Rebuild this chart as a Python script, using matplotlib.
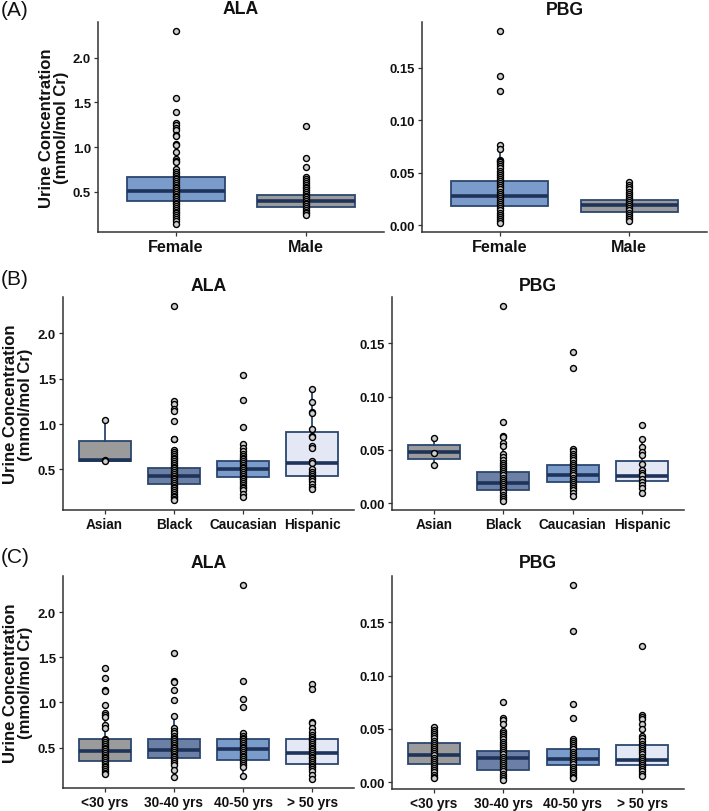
import matplotlib
matplotlib.use('Agg')
import matplotlib.pyplot as plt

plt.rcParams['font.family'] = ['Liberation Sans', 'DejaVu Sans']

# ---------------- categories ----------------
sex_cats = ['Female', 'Male']
race_cats = ['Asian', 'Black', 'Caucasian', 'Hispanic']
age_cats = ['<30 yrs', '30-40 yrs', '40-50 yrs', '> 50 yrs']

ala_ticks = [0.5, 1.0, 1.5, 2.0]
ala_ticklabels = ['0.5', '1.0', '1.5', '2.0']
pbg_ticks = [0.00, 0.05, 0.10, 0.15]
pbg_ticklabels = ['0.00', '0.05', '0.10', '0.15']

# ---------------- box statistics: (q1, median, q3, whisker low, whisker high) ----------------
ala_sex_stats = [(0.403, 0.515, 0.664, 0.14, 1.04), (0.328, 0.395, 0.470, 0.24, 0.67)]
pbg_sex_stats = [(0.0184, 0.028, 0.0423, 0.002, 0.076), (0.0124, 0.0188, 0.0238, 0.004, 0.041)]
ala_race_stats = [(0.588, 0.606, 0.818, 0.588, 1.04), (0.343, 0.427, 0.515, 0.16, 0.71),
                  (0.420, 0.504, 0.595, 0.20, 0.785), (0.427, 0.575, 0.910, 0.28, 1.39)]
pbg_race_stats = [(0.0411, 0.0476, 0.0542, 0.036, 0.061), (0.0121, 0.019, 0.0293, 0.002, 0.054),
                  (0.0199, 0.0268, 0.0355, 0.0065, 0.051), (0.0205, 0.0258, 0.0392, 0.0093, 0.0598)]
ala_age_stats = [(0.346, 0.463, 0.591, 0.207, 0.884), (0.383, 0.474, 0.591, 0.17, 0.848),
                 (0.365, 0.489, 0.591, 0.18, 0.657), (0.321, 0.438, 0.591, 0.152, 0.785)]
pbg_age_stats = [(0.0173, 0.0257, 0.0364, 0.0038, 0.052), (0.011, 0.0226, 0.0289, 0.002, 0.0543),
                 (0.016, 0.0213, 0.0307, 0.0038, 0.040), (0.0157, 0.021, 0.0348, 0.0056, 0.0628)]

# ---------------- individual observations ----------------
ala_female = [2.30, 1.55, 1.39, 1.27, 1.25, 1.22, 1.19, 1.14, 1.12, 1.04, 1.02, 0.95, 0.87, 0.85,
              0.83, 0.76, 0.72, 0.70, 0.68, 0.66, 0.64, 0.62, 0.60, 0.58, 0.56, 0.54, 0.52, 0.50,
              0.48, 0.46, 0.44, 0.42, 0.40, 0.38, 0.36, 0.34, 0.32, 0.30, 0.28, 0.26, 0.24, 0.22,
              0.20, 0.17, 0.14]
ala_male = [1.24, 0.88, 0.78, 0.67, 0.65, 0.62, 0.60, 0.58, 0.56, 0.54, 0.52, 0.50, 0.48, 0.46,
            0.44, 0.42, 0.40, 0.38, 0.36, 0.34, 0.32, 0.30, 0.28, 0.26, 0.24]
pbg_female = [0.185, 0.142, 0.128, 0.076, 0.073, 0.062, 0.061, 0.060, 0.058, 0.056, 0.054, 0.052,
              0.050, 0.048, 0.046, 0.044, 0.042, 0.040, 0.038, 0.036, 0.034, 0.032, 0.030, 0.028,
              0.026, 0.024, 0.022, 0.020, 0.018, 0.016, 0.014, 0.012, 0.010, 0.008, 0.006, 0.004,
              0.002]
pbg_male = [0.041, 0.038, 0.036, 0.034, 0.032, 0.030, 0.028, 0.026, 0.024, 0.022, 0.020, 0.018,
            0.016, 0.014, 0.012, 0.010, 0.008, 0.006, 0.004]

ala_asian = [1.04, 0.60, 0.59]
ala_black = [2.30, 1.25, 1.22, 1.16, 1.14, 1.03, 0.84, 0.83, 0.71, 0.69, 0.67, 0.65, 0.63, 0.61,
             0.59, 0.57, 0.55, 0.53, 0.51, 0.49, 0.47, 0.45, 0.43, 0.41, 0.39, 0.37, 0.35, 0.33,
             0.31, 0.29, 0.27, 0.25, 0.23, 0.21, 0.19, 0.17, 0.16]
ala_caucasian = [1.54, 1.27, 0.97, 0.785, 0.74, 0.70, 0.67, 0.65, 0.63, 0.61, 0.59, 0.57, 0.55,
                 0.53, 0.51, 0.49, 0.47, 0.45, 0.43, 0.41, 0.39, 0.37, 0.35, 0.33, 0.31, 0.29,
                 0.27, 0.23, 0.20]
ala_hispanic = [1.39, 1.24, 1.13, 1.12, 0.95, 0.87, 0.86, 0.76, 0.74, 0.59, 0.57, 0.50, 0.47,
                0.45, 0.43, 0.41, 0.39, 0.37, 0.34, 0.31, 0.28]
pbg_asian = [0.061, 0.0473, 0.036]
pbg_black = [0.185, 0.076, 0.063, 0.062, 0.056, 0.054, 0.046, 0.043, 0.040, 0.038, 0.036, 0.034,
             0.032, 0.030, 0.028, 0.026, 0.024, 0.022, 0.020, 0.018, 0.016, 0.014, 0.012, 0.010,
             0.008, 0.006, 0.004, 0.002]
pbg_caucasian = [0.1416, 0.1273, 0.051, 0.0486, 0.046, 0.044, 0.042, 0.040, 0.038, 0.036, 0.034,
                 0.032, 0.030, 0.028, 0.026, 0.024, 0.022, 0.020, 0.018, 0.016, 0.014, 0.012,
                 0.0095, 0.0065]
pbg_hispanic = [0.0735, 0.0598, 0.0526, 0.048, 0.0454, 0.037, 0.031, 0.0286, 0.026, 0.023, 0.020,
                0.0168, 0.0143, 0.0093]

ala_u30 = [1.385, 1.268, 1.133, 1.122, 0.968, 0.884, 0.859, 0.84, 0.75, 0.72, 0.60, 0.58, 0.56,
           0.54, 0.52, 0.50, 0.48, 0.46, 0.44, 0.42, 0.40, 0.38, 0.36, 0.34, 0.32, 0.30, 0.28,
           0.26, 0.24, 0.22, 0.207]
ala_30_40 = [1.543, 1.235, 1.224, 1.133, 1.023, 0.848, 0.712, 0.683, 0.657, 0.63, 0.61, 0.59,
             0.57, 0.55, 0.53, 0.51, 0.49, 0.47, 0.45, 0.43, 0.41, 0.39, 0.37, 0.35, 0.33, 0.31,
             0.255, 0.17]
ala_40_50 = [2.297, 1.235, 1.04, 0.95, 0.657, 0.63, 0.61, 0.59, 0.57, 0.55, 0.53, 0.51, 0.49,
             0.47, 0.45, 0.43, 0.41, 0.39, 0.37, 0.35, 0.33, 0.31, 0.28, 0.18]
ala_o50 = [1.206, 1.144, 0.785, 0.767, 0.712, 0.676, 0.64, 0.62, 0.60, 0.58, 0.56, 0.54, 0.52,
           0.50, 0.48, 0.46, 0.44, 0.42, 0.40, 0.38, 0.36, 0.34, 0.32, 0.30, 0.28, 0.26, 0.24,
           0.20, 0.152]
pbg_u30 = [0.052, 0.049, 0.047, 0.045, 0.043, 0.041, 0.039, 0.037, 0.035, 0.033, 0.031, 0.029,
           0.027, 0.025, 0.023, 0.021, 0.019, 0.017, 0.015, 0.013, 0.011, 0.009, 0.007, 0.005,
           0.0038]
pbg_30_40 = [0.0756, 0.060, 0.0584, 0.0543, 0.048, 0.046, 0.044, 0.042, 0.040, 0.038, 0.036,
             0.034, 0.032, 0.030, 0.028, 0.026, 0.024, 0.022, 0.020, 0.018, 0.016, 0.014, 0.012,
             0.010, 0.008, 0.006, 0.004, 0.002]
pbg_40_50 = [0.1854, 0.1418, 0.0731, 0.0606, 0.040, 0.0386, 0.0366, 0.0346, 0.0326, 0.0306,
             0.0286, 0.0266, 0.0246, 0.0226, 0.0206, 0.0186, 0.0166, 0.0146, 0.0126, 0.0106,
             0.0086, 0.0066, 0.0048, 0.0038]
pbg_o50 = [0.1274, 0.0628, 0.0615, 0.0596, 0.0543, 0.0496, 0.043, 0.041, 0.039, 0.036, 0.034,
           0.032, 0.030, 0.028, 0.026, 0.024, 0.022, 0.020, 0.018, 0.016, 0.014, 0.012, 0.010,
           0.008, 0.0056]

# ---------------- style ----------------
GRAY = '#9b9b9b'
SLATE = '#6b80a4'
BLUE = '#7b9cca'
LIGHT = '#e3e8f4'
EDGE = '#2b4670'
MED = '#1d3359'
AXC = '#333333'

W, H = 709, 812
fig = plt.figure(figsize=(W / 100, H / 100), dpi=100)


def rect(l, r, t, b):
    return [l / W, 1 - b / H, (r - l) / W, (b - t) / H]


def panel(box, cats, stats, points, colors, ylim, ticks, ticklabels, title, xfs, tpad):
    ax = fig.add_axes(rect(*box))
    bstats = [dict(q1=s[0], med=s[1], q3=s[2], whislo=s[3], whishi=s[4], fliers=[])
              for s in stats]
    pos = list(range(1, len(cats) + 1))
    bp = ax.bxp(bstats, positions=pos, widths=0.75, patch_artist=True,
                showfliers=False, showcaps=False,
                boxprops=dict(edgecolor=EDGE, linewidth=1.3),
                medianprops=dict(color=MED, linewidth=2.6, solid_capstyle='butt'),
                whiskerprops=dict(color=EDGE, linewidth=1.3), zorder=2)
    for patch, c in zip(bp['boxes'], colors):
        patch.set_facecolor(c)
    for p, pts in zip(pos, points):
        ax.plot([p] * len(pts), pts, 'o', ms=4.3, mfc='#cfcfcf', mec='#000000',
                mew=1.0, zorder=4, linestyle='none')
    ax.set_xlim(0.4, len(cats) + 0.6)
    ax.set_ylim(*ylim)
    ax.set_xticks(pos)
    ax.set_xticklabels(cats, fontsize=xfs, fontweight='bold', color='#111111')
    ax.set_yticks(ticks)
    ax.set_yticklabels(ticklabels, fontsize=9.4, fontweight='bold', color='#111111')
    for s in ['top', 'right']:
        ax.spines[s].set_visible(False)
    for s in ['left', 'bottom']:
        ax.spines[s].set_color(AXC)
        ax.spines[s].set_linewidth(1.1)
    ax.tick_params(direction='out', length=3, width=0.9, color=AXC, pad=2)
    ax.set_title(title, fontsize=12.7, fontweight='bold', pad=tpad, color='#111111')
    ax.set_facecolor('white')
    return ax


ALA_LIM = (0.052, 2.40)
PBG_LIM = (-0.0065, 0.1935)

# Panel A
panel((98, 384, 23, 233), sex_cats, ala_sex_stats, [ala_female, ala_male], [BLUE, GRAY],
      ALA_LIM, ala_ticks, ala_ticklabels, 'ALA', 11.6, 6.5)
panel((422, 707, 23, 233), sex_cats, pbg_sex_stats, [pbg_female, pbg_male], [BLUE, GRAY],
      PBG_LIM, pbg_ticks, pbg_ticklabels, 'PBG', 11.6, 6.0)

race_colors = [GRAY, SLATE, BLUE, LIGHT]
panel((63, 354, 298, 511), race_cats, ala_race_stats,
      [ala_asian, ala_black, ala_caucasian, ala_hispanic], race_colors,
      ALA_LIM, ala_ticks, ala_ticklabels, 'ALA', 9.8, 5.0)
panel((392, 684, 298, 511), race_cats, pbg_race_stats,
      [pbg_asian, pbg_black, pbg_caucasian, pbg_hispanic], race_colors,
      PBG_LIM, pbg_ticks, pbg_ticklabels, 'PBG', 9.8, 5.0)

panel((63, 354, 577, 789), age_cats, ala_age_stats,
      [ala_u30, ala_30_40, ala_40_50, ala_o50], race_colors,
      ALA_LIM, ala_ticks, ala_ticklabels, 'ALA', 9.8, 6.5)
panel((392, 684, 577, 790), age_cats, pbg_age_stats,
      [pbg_u30, pbg_30_40, pbg_40_50, pbg_o50], race_colors,
      PBG_LIM, pbg_ticks, pbg_ticklabels, 'PBG', 9.8, 6.5)

ylab = 'Urine Concentration\n(mmol/mol Cr)'
for xc, yc in [(54, 128), (18, 404.5), (18, 683)]:
    fig.text(xc / W, 1 - yc / H, ylab, rotation=90, ha='center', va='center',
             multialignment='center', fontsize=12, fontweight='bold', linespacing=1.05,
             color='#111111')

for lab, yt in [('(A)', 1), ('(B)', 270), ('(C)', 548)]:
    fig.text(1 / W, 1 - yt / H, lab, ha='left', va='top', fontsize=15, color='#111111')

fig.savefig('out.png', dpi=100, facecolor='white')
